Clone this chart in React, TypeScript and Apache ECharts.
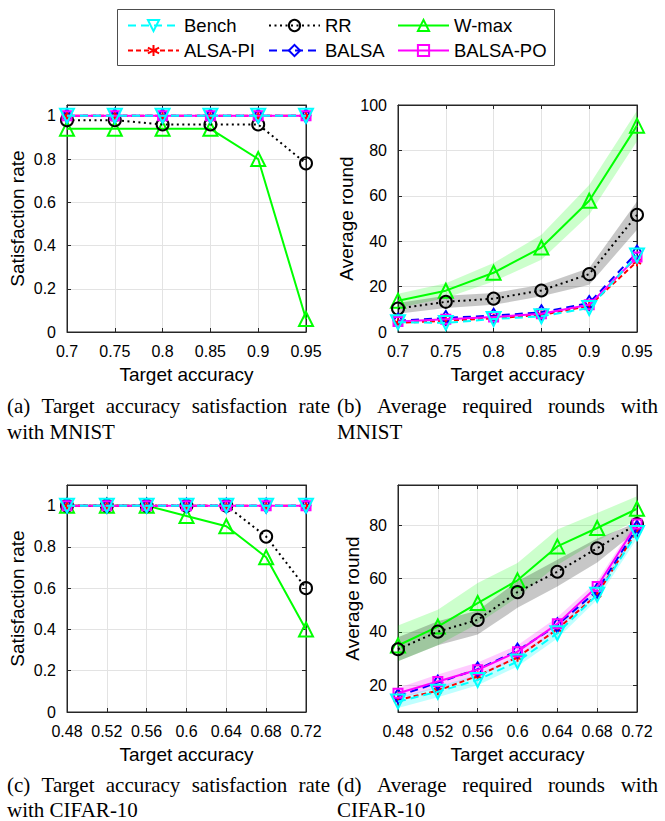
import React, { useEffect, useRef } from "react";
import * as echarts from "echarts";

// ---------- categories ----------
const xMnist = ["0.7", "0.75", "0.8", "0.85", "0.9", "0.95"];
const xCifar = ["0.48", "0.52", "0.56", "0.6", "0.64", "0.68", "0.72"];

// ---------- tick labels ----------
const ticksSat = [0, 0.2, 0.4, 0.6, 0.8, 1];
const ticksRndMnist = [0, 20, 40, 60, 80, 100];
const ticksRndCifar = [20, 40, 60, 80];

// ---------- (a) MNIST satisfaction rate ----------
const satMnistBench = [1, 1, 1, 1, 1, 1];
const satMnistRR = [0.98, 0.98, 0.96, 0.96, 0.96, 0.78];
const satMnistWmax = [0.94, 0.94, 0.94, 0.94, 0.8, 0.06];
const satMnistAlsaPI = [1, 1, 1, 1, 1, 1];
const satMnistBalsa = [1, 1, 1, 1, 1, 1];
const satMnistBalsaPO = [1, 1, 1, 1, 1, 1];

// ---------- (b) MNIST average rounds ----------
const rndMnistBench = [4.3, 4.0, 5.7, 6.9, 10.6, 33.7];
const rndMnistRR = [10.3, 13.3, 14.7, 18.3, 25.5, 51.6];
const rndMnistWmax = [13.8, 18.2, 26.1, 37.2, 57.8, 90.9];
const rndMnistAlsaPI = [4.0, 5.0, 6.0, 7.5, 11.5, 31.0];
const rndMnistBalsa = [5.0, 6.2, 7.2, 8.7, 12.8, 35.0];
const rndMnistBalsaPO = [4.6, 5.6, 6.6, 8.0, 12.0, 33.0];
const bandMnistWmaxLow = [10.6, 15.0, 22.3, 31.8, 51.6, 84.0];
const bandMnistWmaxHigh = [16.9, 21.5, 30.4, 42.8, 64.8, 97.5];
const bandMnistRRLow = [8.0, 10.6, 12.0, 15.7, 20.8, 45.0];
const bandMnistRRHigh = [12.8, 16.0, 17.2, 20.8, 28.2, 57.5];

// ---------- (c) CIFAR-10 satisfaction rate ----------
const satCifarBench = [1, 1, 1, 1, 1, 1, 1];
const satCifarRR = [1, 1, 1, 1, 1, 0.85, 0.6];
const satCifarWmax = [1, 1, 1, 0.95, 0.9, 0.75, 0.4];
const satCifarAlsaPI = [1, 1, 1, 1, 1, 1, 1];
const satCifarBalsa = [1, 1, 1, 1, 1, 1, 1];
const satCifarBalsaPO = [1, 1, 1, 1, 1, 1, 1];

// ---------- (d) CIFAR-10 average rounds ----------
const rndCifarBench = [13.9, 17.6, 22.0, 28.9, 39.5, 53.9, 77.0];
const rndCifarRR = [33.5, 40.1, 44.5, 54.9, 62.5, 71.3, 80.4];
const rndCifarWmax = [34.9, 42.0, 50.8, 59.3, 72.0, 78.9, 86.1];
const rndCifarAlsaPI = [14.5, 18.0, 23.5, 30.5, 41.0, 54.0, 78.0];
const rndCifarBalsa = [16.0, 21.0, 26.0, 33.0, 42.5, 55.5, 79.0];
const rndCifarBalsaPO = [17.0, 21.4, 25.8, 32.6, 43.0, 57.0, 80.4];
const bandCifarWmaxLow = [29.0, 35.0, 43.0, 53.0, 65.0, 74.0, 82.0];
const bandCifarWmaxHigh = [42.4, 48.3, 58.3, 65.8, 78.3, 84.5, 90.8];
const bandCifarRRLow = [29.0, 35.0, 39.0, 49.0, 57.0, 66.0, 78.0];
const bandCifarRRHigh = [38.0, 44.0, 48.0, 59.0, 67.0, 75.0, 81.0];
const bandCifarPOLow = [15.0, 19.0, 23.0, 30.0, 40.5, 55.0, 78.0];
const bandCifarPOHigh = [19.0, 24.0, 28.5, 35.0, 45.5, 59.0, 82.0];
const bandCifarBenchLow = [11.5, 15.5, 20.0, 27.0, 37.5, 52.0, 75.0];
const bandCifarBenchHigh = [15.5, 19.5, 24.0, 31.0, 41.5, 56.0, 79.0];

const seriesNames = ["Bench", "RR", "W-max", "ALSA-PI", "BALSA", "BALSA-PO"];

const SANS = '"Liberation Sans", Arial, Helvetica, sans-serif';
const SERIF = '"Liberation Serif", "Times New Roman", serif';
const AXIS_COLOR = "#262626";
const CAP_SIZE = 21;

const ASTERISK = "path://M0,-5L0,5M-4.5,-2.6L4.5,2.6M-4.5,2.6L4.5,-2.6";

const styles: Record<string, any> = {
  Bench: { color: "#00ffff", type: [8, 5], symbol: "triangle", rotate: 180, size: 14, z: 8 },
  RR: { color: "#000000", type: [2, 3.5], symbol: "circle", rotate: 0, size: 12, z: 4 },
  "W-max": { color: "#00ff00", type: "solid", symbol: "triangle", rotate: 0, size: 14, z: 3 },
  "ALSA-PI": { color: "#ff0000", type: [5, 3], symbol: ASTERISK, rotate: 0, size: 9, z: 5 },
  BALSA: { color: "#0000ff", type: [8, 5], symbol: "diamond", rotate: 0, size: [9, 14], z: 6 },
  "BALSA-PO": { color: "#ff00ff", type: "solid", symbol: "rect", rotate: 0, size: 9, z: 7 },
};

function lineSeries(name: string, idx: number, data: number[]) {
  const s = styles[name];
  const filled = name === "ALSA-PI";
  return {
    name,
    type: "line",
    xAxisIndex: idx,
    yAxisIndex: idx,
    data,
    z: s.z,
    clip: false,
    symbol: s.symbol,
    symbolSize: s.size,
    symbolRotate: s.rotate,
    symbolKeepAspect: true,
    showAllSymbol: true,
    lineStyle: { color: s.color, width: 2, type: s.type },
    itemStyle: {
      color: filled ? s.color : "none",
      borderColor: s.color,
      borderWidth: 2,
    },
    emphasis: { disabled: true },
  };
}

function bandSeries(key: string, idx: number, low: number[], high: number[], color: string, opacity: number) {
  const stack = "band-" + key;
  return [
    {
      name: key + "-low",
      type: "line",
      xAxisIndex: idx,
      yAxisIndex: idx,
      stack,
      data: low,
      symbol: "none",
      silent: true,
      z: 1,
      lineStyle: { opacity: 0 },
      emphasis: { disabled: true },
    },
    {
      name: key + "-band",
      type: "line",
      xAxisIndex: idx,
      yAxisIndex: idx,
      stack,
      data: high.map((h, i) => h - low[i]),
      symbol: "none",
      silent: true,
      z: 1,
      lineStyle: { opacity: 0 },
      areaStyle: { color, opacity },
      emphasis: { disabled: true },
    },
  ];
}

const grids = [
  { left: 67, top: 105, width: 239, height: 227 },
  { left: 398, top: 105, width: 239, height: 227 },
  { left: 67, top: 485, width: 239, height: 227 },
  { left: 398, top: 485, width: 239, height: 227 },
];

let measureCtx: CanvasRenderingContext2D | null = null;
function measure(text: string): number {
  if (!measureCtx) {
    const c = document.createElement("canvas");
    measureCtx = c.getContext("2d");
  }
  if (!measureCtx) return text.length * CAP_SIZE * 0.45;
  measureCtx.font = `${CAP_SIZE}px "Liberation Serif"`;
  return measureCtx.measureText(text).width;
}

function justified(words: string[], x0: number, x1: number, y: number) {
  const widths = words.map(measure);
  const total = widths.reduce((a, b) => a + b, 0);
  const gap = words.length > 1 ? (x1 - x0 - total) / (words.length - 1) : 0;
  let x = x0;
  return words.map((w, i) => {
    const el = {
      type: "text",
      x,
      y,
      silent: true,
      style: { text: w, fontSize: CAP_SIZE, fontFamily: SERIF, fill: "#000", verticalAlign: "middle" },
    };
    x += widths[i] + gap;
    return el;
  });
}

function plain(text: string, x: number, y: number) {
  return {
    type: "text",
    x,
    y,
    silent: true,
    style: { text, fontSize: CAP_SIZE, fontFamily: SERIF, fill: "#000", verticalAlign: "middle" },
  };
}

function buildOption() {
  const cats = [xMnist, xMnist, xCifar, xCifar];
  const yCfg = [
    { min: 0, max: 1.05, ticks: ticksSat, name: "Satisfaction rate", gap: 40 },
    { min: 0, max: 100, ticks: ticksRndMnist, name: "Average round", gap: 41 },
    { min: 0, max: 1.1, ticks: ticksSat, name: "Satisfaction rate", gap: 40 },
    { min: 10, max: 95, ticks: ticksRndCifar, name: "Average round", gap: 36 },
  ];

  const xAxis: any[] = [];
  const yAxis: any[] = [];
  for (let i = 0; i < 4; i++) {
    xAxis.push({
      type: "category",
      gridIndex: i,
      data: cats[i],
      boundaryGap: false,
      axisLine: { show: true, lineStyle: { color: AXIS_COLOR, width: 1 } },
      axisTick: { show: true, inside: true, length: 4, alignWithLabel: true, lineStyle: { color: AXIS_COLOR } },
      axisLabel: { interval: 0, fontSize: 16, color: "#000", fontFamily: SANS, margin: 11, hideOverlap: false },
      splitLine: { show: true, lineStyle: { color: "#e3e3e3", width: 1 } },
      name: "Target accuracy",
      nameLocation: "middle",
      nameGap: 33,
      nameTextStyle: { fontSize: 19, color: "#000", fontFamily: SANS },
    });
    yAxis.push({
      type: "value",
      gridIndex: i,
      min: yCfg[i].min,
      max: yCfg[i].max,
      axisLine: { show: true, lineStyle: { color: AXIS_COLOR, width: 1 } },
      axisTick: { show: true, inside: true, length: 4, customValues: yCfg[i].ticks, lineStyle: { color: AXIS_COLOR } },
      axisLabel: { fontSize: 16, color: "#000", fontFamily: SANS, margin: 11, customValues: yCfg[i].ticks },
      splitLine: { show: true, lineStyle: { color: "#e3e3e3", width: 1 } },
      name: yCfg[i].name,
      nameLocation: "middle",
      nameGap: yCfg[i].gap,
      nameTextStyle: { fontSize: 19, color: "#000", fontFamily: SANS },
    });
  }
  // box (top / right) axes with inner ticks
  for (let i = 0; i < 4; i++) {
    xAxis.push({
      type: "category",
      gridIndex: i,
      position: "top",
      data: cats[i],
      boundaryGap: false,
      axisLine: { show: true, onZero: false, lineStyle: { color: AXIS_COLOR, width: 1 } },
      axisTick: { show: true, inside: true, length: 4, lineStyle: { color: AXIS_COLOR } },
      axisLabel: { show: false },
      splitLine: { show: false },
    });
    yAxis.push({
      type: "value",
      gridIndex: i,
      position: "right",
      min: yCfg[i].min,
      max: yCfg[i].max,
      axisLine: { show: true, onZero: false, lineStyle: { color: AXIS_COLOR, width: 1 } },
      axisTick: { show: true, inside: true, length: 4, customValues: yCfg[i].ticks, lineStyle: { color: AXIS_COLOR } },
      axisLabel: { show: false },
      splitLine: { show: false },
    });
  }

  const order = ["W-max", "RR", "ALSA-PI", "BALSA", "BALSA-PO", "Bench"];
  const panelData: Record<string, number[]>[] = [
    { Bench: satMnistBench, RR: satMnistRR, "W-max": satMnistWmax, "ALSA-PI": satMnistAlsaPI, BALSA: satMnistBalsa, "BALSA-PO": satMnistBalsaPO },
    { Bench: rndMnistBench, RR: rndMnistRR, "W-max": rndMnistWmax, "ALSA-PI": rndMnistAlsaPI, BALSA: rndMnistBalsa, "BALSA-PO": rndMnistBalsaPO },
    { Bench: satCifarBench, RR: satCifarRR, "W-max": satCifarWmax, "ALSA-PI": satCifarAlsaPI, BALSA: satCifarBalsa, "BALSA-PO": satCifarBalsaPO },
    { Bench: rndCifarBench, RR: rndCifarRR, "W-max": rndCifarWmax, "ALSA-PI": rndCifarAlsaPI, BALSA: rndCifarBalsa, "BALSA-PO": rndCifarBalsaPO },
  ];

  const series: any[] = [];
  series.push(...bandSeries("mW", 1, bandMnistWmaxLow, bandMnistWmaxHigh, "#00ff00", 0.2));
  series.push(...bandSeries("mR", 1, bandMnistRRLow, bandMnistRRHigh, "#000000", 0.22));
  series.push(...bandSeries("cW", 3, bandCifarWmaxLow, bandCifarWmaxHigh, "#00ff00", 0.2));
  series.push(...bandSeries("cR", 3, bandCifarRRLow, bandCifarRRHigh, "#000000", 0.22));
  series.push(...bandSeries("cP", 3, bandCifarPOLow, bandCifarPOHigh, "#ff00ff", 0.2));
  series.push(...bandSeries("cB", 3, bandCifarBenchLow, bandCifarBenchHigh, "#00ffff", 0.25));
  for (let i = 0; i < 4; i++) {
    for (const n of order) series.push(lineSeries(n, i, panelData[i][n]));
  }

  const colLeft = [127, 268, 397];
  const rowTop = [16, 41];
  const legend = seriesNames.map((n, k) => ({
    data: [n],
    left: colLeft[k % 3],
    top: rowTop[Math.floor(k / 3)],
    padding: 0,
    itemGap: 0,
    itemWidth: 51,
    itemHeight: 14,
    selectedMode: false,
    textStyle: { fontSize: 18.5, color: "#000", fontFamily: SANS },
  }));

  const graphic: any[] = [
    {
      type: "rect",
      shape: { x: 117.5, y: 9.5, width: 437, height: 56 },
      style: { fill: "none", stroke: "#4d4d4d", lineWidth: 1 },
      silent: true,
    },
    ...justified(["(a)", "Target", "accuracy", "satisfaction", "rate"], 7, 330, 406),
    plain("with MNIST", 7, 432),
    ...justified(["(b)", "Average", "required", "rounds", "with"], 337, 658, 406),
    plain("MNIST", 337, 432),
    ...justified(["(c)", "Target", "accuracy", "satisfaction", "rate"], 7, 330, 785),
    plain("with CIFAR-10", 7, 810),
    ...justified(["(d)", "Average", "required", "rounds", "with"], 337, 658, 785),
    plain("CIFAR-10", 337, 810),
  ];

  return {
    animation: false,
    backgroundColor: "#ffffff",
    grid: grids.map((g) => ({ ...g, show: true, borderColor: AXIS_COLOR, borderWidth: 1, backgroundColor: "transparent" })),
    xAxis,
    yAxis,
    legend,
    series,
    graphic,
  };
}

export default function App() {
  const ref = useRef<HTMLDivElement>(null);
  useEffect(() => {
    if (!ref.current) return;
    const chart = echarts.init(ref.current, undefined, { renderer: "svg" });
    chart.setOption(buildOption() as any);
    return () => chart.dispose();
  }, []);
  return (
    <div
      ref={ref}
      style={{ position: "absolute", left: 0, top: 0, width: 665, height: 821, background: "#fff" }}
    />
  );
}
